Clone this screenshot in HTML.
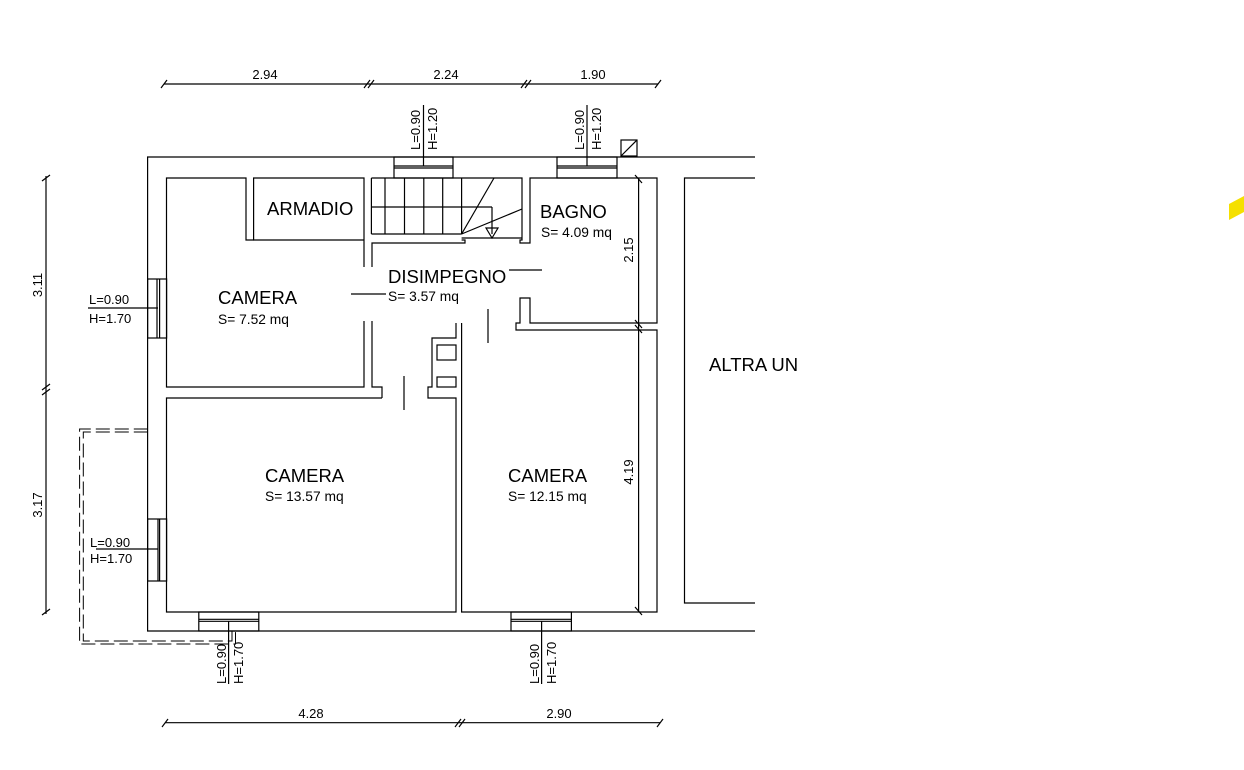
<!DOCTYPE html>
<html><head><meta charset="utf-8"><style>
html,body{margin:0;padding:0;background:#fff;}
svg{display:block}
text{font-family:"Liberation Sans",sans-serif;fill:#000}
</style></head><body>
<svg width="1244" height="770" viewBox="0 0 1244 770" xmlns="http://www.w3.org/2000/svg">
<g fill="none" stroke="#000" stroke-width="1.2">
<polyline points="755,157 147.6,157 147.6,631 755,631"/>
<polyline points="364,267 364,243 364,178 253.6,178 253.6,240 364,240"/>
<polyline points="364,321 364,387 166.5,387 166.5,178 246,178 246,240 253.6,240"/>
<polyline points="372,267 372,243 465,243 465,240 461.6,240"/>
<polyline points="372,321 372,387 382,387 382,398"/>
<polyline points="371.4,178 522,178 522,240 520,240 520,243 530,243 530,178 657,178 657,323 530,323 530,298 520,298 520,323 516,323 516,330 657,330 657,612 461.6,612 461.6,323"/>
<line x1="371.4" y1="178" x2="371.4" y2="234"/>
<line x1="371.4" y1="234" x2="461.6" y2="234"/>
<line x1="461.6" y1="238" x2="522" y2="238"/>
<line x1="371.4" y1="207" x2="492" y2="207"/>
<line x1="492" y1="207" x2="492" y2="234"/>
<line x1="385" y1="178" x2="385" y2="234"/><line x1="404.5" y1="178" x2="404.5" y2="234"/>
<line x1="423.8" y1="178" x2="423.8" y2="234"/><line x1="442.7" y1="178" x2="442.7" y2="234"/>
<line x1="461.6" y1="178" x2="461.6" y2="234"/>
<line x1="461.6" y1="234" x2="494" y2="178"/><line x1="461.6" y1="234" x2="522" y2="209"/>
<polygon points="486,228 498,228 492,238"/>
<polyline points="456,323 456,338 432,338 432,387 428,387 428,398 456,398 456,612 166.5,612 166.5,398 382,398"/>
<rect x="437" y="345" width="19" height="15"/><rect x="437" y="377" width="19" height="10"/>
<line x1="488" y1="309" x2="488" y2="343"/><line x1="404" y1="376" x2="404" y2="410"/>
<line x1="509" y1="270" x2="542" y2="270"/><line x1="351" y1="294" x2="386" y2="294"/>
<polyline points="755,178 684.5,178 684.5,603 755,603"/>
<line x1="638.6" y1="178" x2="638.6" y2="612"/>
<rect x="394" y="157" width="59" height="21"/><line x1="394" y1="166" x2="453" y2="166"/><line x1="394" y1="168" x2="453" y2="168"/>
<line x1="423.5" y1="105" x2="423.5" y2="166"/>
<rect x="557" y="157" width="60" height="21"/><line x1="557" y1="166" x2="617" y2="166"/><line x1="557" y1="168" x2="617" y2="168"/>
<line x1="587" y1="105" x2="587" y2="166"/>
<rect x="621" y="140" width="16" height="16"/><line x1="621" y1="156" x2="637" y2="140"/>
<rect x="147.6" y="279" width="19" height="59"/><line x1="157" y1="279" x2="157" y2="338"/><line x1="159.6" y1="279" x2="159.6" y2="338"/>
<line x1="88" y1="308" x2="158" y2="308"/>
<rect x="147.6" y="519" width="19" height="62"/><line x1="158" y1="519" x2="158" y2="581"/><line x1="159.6" y1="519" x2="159.6" y2="581"/>
<line x1="96" y1="549" x2="158" y2="549"/>
<rect x="198.8" y="612" width="60" height="19"/><line x1="198.8" y1="619.3" x2="258.8" y2="619.3"/><line x1="198.8" y1="621.3" x2="258.8" y2="621.3"/>
<line x1="228.6" y1="621" x2="228.6" y2="684"/>
<rect x="511" y="612" width="60.4" height="19"/><line x1="511" y1="619.3" x2="571.4" y2="619.3"/><line x1="511" y1="621.3" x2="571.4" y2="621.3"/>
<line x1="541.6" y1="621" x2="541.6" y2="684"/>
</g>
<g fill="none" stroke="#000" stroke-width="1" stroke-dasharray="14,5">
<polyline points="147.8,429 79.6,429 79.6,644 235.5,644 235.5,631"/>
<polyline points="147.8,432 83.3,432 83.3,641 232,641 232,631"/>
</g>
<g stroke="#000" stroke-width="1.2">
<line x1="164" y1="84" x2="658" y2="84"/>
<line x1="161" y1="88" x2="167" y2="80"/><line x1="364" y1="88" x2="370" y2="80"/><line x1="368" y1="88" x2="374" y2="80"/>
<line x1="521" y1="88" x2="527" y2="80"/><line x1="525" y1="88" x2="531" y2="80"/><line x1="655" y1="88" x2="661" y2="80"/>
<line x1="165" y1="722.7" x2="660" y2="722.7"/>
<line x1="162" y1="727" x2="168" y2="719"/><line x1="455" y1="727" x2="461" y2="719"/><line x1="459" y1="727" x2="465" y2="719"/><line x1="657" y1="727" x2="663" y2="719"/>
<line x1="46" y1="176" x2="46" y2="614"/>
<line x1="42" y1="181" x2="50" y2="175"/><line x1="42" y1="390" x2="50" y2="384"/><line x1="42" y1="395" x2="50" y2="389"/><line x1="42" y1="615" x2="50" y2="609"/>
<line x1="635" y1="175" x2="642" y2="183"/><line x1="635" y1="320" x2="642" y2="328"/><line x1="635" y1="325" x2="642" y2="333"/><line x1="635" y1="607" x2="642" y2="615"/>
</g>
<polygon points="1229,204 1244,196 1244,212 1229,220" fill="#f5e000"/>
<g font-size="13">
<text x="265" y="79" text-anchor="middle">2.94</text>
<text x="446" y="79" text-anchor="middle">2.24</text>
<text x="593" y="79" text-anchor="middle">1.90</text>
<text x="311" y="718" text-anchor="middle">4.28</text>
<text x="559" y="718" text-anchor="middle">2.90</text>
<text transform="translate(42,285) rotate(-90)" text-anchor="middle">3.11</text>
<text transform="translate(42,505) rotate(-90)" text-anchor="middle">3.17</text>
<text transform="translate(633,250) rotate(-90)" text-anchor="middle">2.15</text>
<text transform="translate(633,472) rotate(-90)" text-anchor="middle">4.19</text>
<text transform="translate(420,150) rotate(-90)">L=0.90</text>
<text transform="translate(437,150) rotate(-90)">H=1.20</text>
<text transform="translate(584,150) rotate(-90)">L=0.90</text>
<text transform="translate(601,150) rotate(-90)">H=1.20</text>
<text transform="translate(226,684) rotate(-90)">L=0.90</text>
<text transform="translate(243,684) rotate(-90)">H=1.70</text>
<text transform="translate(539,684) rotate(-90)">L=0.90</text>
<text transform="translate(556,684) rotate(-90)">H=1.70</text>
<text x="89" y="304">L=0.90</text><text x="89" y="323">H=1.70</text>
<text x="90" y="547">L=0.90</text><text x="90" y="563">H=1.70</text>
</g>
<g font-size="18.5">
<text x="267" y="215">ARMADIO</text>
<text x="540" y="218">BAGNO</text>
<text x="388" y="283">DISIMPEGNO</text>
<text x="218" y="304">CAMERA</text>
<text x="265" y="482">CAMERA</text>
<text x="508" y="482">CAMERA</text>
<text x="709" y="371">ALTRA UN</text>
</g>
<g font-size="13.8">
<text x="541" y="237">S= 4.09 mq</text>
<text x="388" y="301">S= 3.57 mq</text>
<text x="218" y="324">S= 7.52 mq</text>
<text x="265" y="501">S= 13.57 mq</text>
<text x="508" y="501">S= 12.15 mq</text>
</g>
</svg>
</body></html>
